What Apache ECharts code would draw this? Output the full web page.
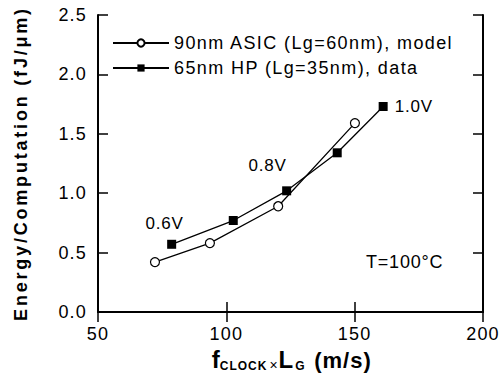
<!DOCTYPE html>
<html>
<head>
<meta charset="utf-8">
<script src="https://cdn.jsdelivr.net/npm/echarts@6/dist/echarts.min.js"></script>
<style>
  html, body { margin: 0; padding: 0; background: #fff; }
  #chart { width: 503px; height: 381px; }
  /* wide-set lettering per text group (SVG text honours CSS letter-spacing) */
  #chart text[style*="tick-face"]   { letter-spacing: 1.2px; }
  #chart text[style*="legend-face"] { letter-spacing: 1.4px; }
  #chart text[style*="ytitle-face"] { letter-spacing: 2.8px; }
  #chart text[style*="note-face"]   { letter-spacing: 0.8px; }
  #chart text[style*="xtitle-face"] { letter-spacing: 1px; }
</style>
</head>
<body>
<div id="chart"></div>
<script>
// 90nm ASIC (Lg=60nm), model
const modelX = [72.2, 93.6, 120.2, 150.1];
const modelY = [0.42, 0.58, 0.89, 1.59];
// 65nm HP (Lg=35nm), measured data
const dataX = [78.7, 102.7, 123.5, 143.2, 161.1];
const dataY = [0.57, 0.77, 1.02, 1.34, 1.73];
// supply voltage noted next to some measured points
const voltageLabels = ['0.6V', '', '0.8V', '', '1.0V'];
const seriesNames = ['90nm ASIC (Lg=60nm), model', '65nm HP (Lg=35nm), data'];
const xTicks = [50, 100, 150, 200];
const yTicks = [0.0, 0.5, 1.0, 1.5, 2.0, 2.5];
const tempNote = 'T=100°C';

const SANS = 'Liberation Sans, Arial, Helvetica, sans-serif';
const face = tag => tag + ', ' + SANS;

const labelOffsets = [[-7, -1], null, [-19, -5], null, [0, 0]];
const labelPositions = ['top', null, 'top', null, 'right'];

const dataPoints = dataX.map((x, i) => {
  const p = { value: [x, dataY[i]] };
  if (voltageLabels[i]) {
    p.label = {
      show: true,
      formatter: voltageLabels[i],
      position: labelPositions[i],
      offset: labelOffsets[i],
      distance: 7,
      color: '#000',
      fontSize: 17,
      fontFamily: face('note-face')
    };
  }
  return p;
});

const frameAxis = {
  axisLine: { show: true, lineStyle: { color: '#000', width: 2 } },
  axisTick: { show: true, inside: true, length: 10, lineStyle: { color: '#000', width: 1.5 } },
  splitLine: { show: false }
};

const chart = echarts.init(document.getElementById('chart'), null, { renderer: 'svg' });
chart.setOption({
  animation: false,
  backgroundColor: '#fff',
  grid: { left: 98, right: 20, top: 15, bottom: 69, containLabel: false },
  legend: {
    orient: 'vertical',
    left: 112,
    top: 34,
    padding: 0,
    itemWidth: 56,
    itemHeight: 9,
    itemGap: 7,
    data: seriesNames,
    textStyle: { color: '#000', fontSize: 18, fontFamily: face('legend-face') }
  },
  xAxis: [
    Object.assign({}, frameAxis, {
      type: 'value', position: 'bottom',
      min: xTicks[0], max: xTicks[xTicks.length - 1], interval: 50,
      axisLabel: { show: true, color: '#000', fontSize: 18, margin: 13, fontFamily: face('tick-face') },
      name: '{f|f}{s|CLOCK}{x|×}{f|L}{s|G}{u| (m/s)}',
      nameLocation: 'middle',
      nameGap: 33,
      nameTextStyle: {
        rich: {
          f: { fontSize: 24, fontWeight: 'bold', color: '#000', fontFamily: face('xtitle-face'), lineHeight: 25, verticalAlign: 'bottom', padding: [0, 2, 0, 0] },
          s: { fontSize: 12, fontWeight: 'bold', color: '#000', fontFamily: face('xtitle-face'), lineHeight: 12, verticalAlign: 'bottom', padding: [0, 5, 0, 0] },
          x: { fontSize: 14, color: '#000', fontFamily: face('xtitle-face'), lineHeight: 17, verticalAlign: 'bottom', padding: [0, 1, 0, 0] },
          u: { fontSize: 22, fontWeight: 'bold', color: '#000', fontFamily: face('xtitle-face'), lineHeight: 25, verticalAlign: 'bottom' }
        }
      }
    }),
    Object.assign({}, frameAxis, {
      type: 'value', position: 'top',
      min: xTicks[0], max: xTicks[xTicks.length - 1], interval: 50,
      axisLabel: { show: false }
    })
  ],
  yAxis: [
    Object.assign({}, frameAxis, {
      type: 'value', position: 'left',
      min: yTicks[0], max: yTicks[yTicks.length - 1], interval: 0.5,
      axisLabel: {
        show: true, color: '#000', fontSize: 18, margin: 11, fontFamily: face('tick-face'),
        formatter: v => v.toFixed(1)
      },
      name: 'Energy/Computation (fJ/μm)',
      nameLocation: 'middle',
      nameGap: 68,
      nameRotate: 90,
      nameTextStyle: { color: '#000', fontSize: 18, fontWeight: 'bold', fontFamily: face('ytitle-face') }
    }),
    Object.assign({}, frameAxis, {
      type: 'value', position: 'right',
      min: yTicks[0], max: yTicks[yTicks.length - 1], interval: 0.5,
      axisLabel: { show: false }
    })
  ],
  series: [
    {
      name: seriesNames[0],
      type: 'line',
      xAxisIndex: 0, yAxisIndex: 0,
      data: modelX.map((x, i) => [x, modelY[i]]),
      symbol: 'circle',
      symbolSize: 9,
      itemStyle: { color: '#fff', borderColor: '#000', borderWidth: 1.2 },
      lineStyle: { color: '#000', width: 1.3 },
      z: 3
    },
    {
      name: seriesNames[1],
      type: 'line',
      xAxisIndex: 0, yAxisIndex: 0,
      data: dataPoints,
      symbol: 'rect',
      symbolSize: 9,
      itemStyle: { color: '#000', borderColor: '#000', borderWidth: 0 },
      lineStyle: { color: '#000', width: 1.3 },
      z: 4
    }
  ],
  graphic: [
    {
      type: 'text',
      left: 366,
      top: 253,
      style: { text: tempNote, fill: '#000', fontSize: 18, fontFamily: face('note-face') }
    }
  ]
});
</script>
</body>
</html>
